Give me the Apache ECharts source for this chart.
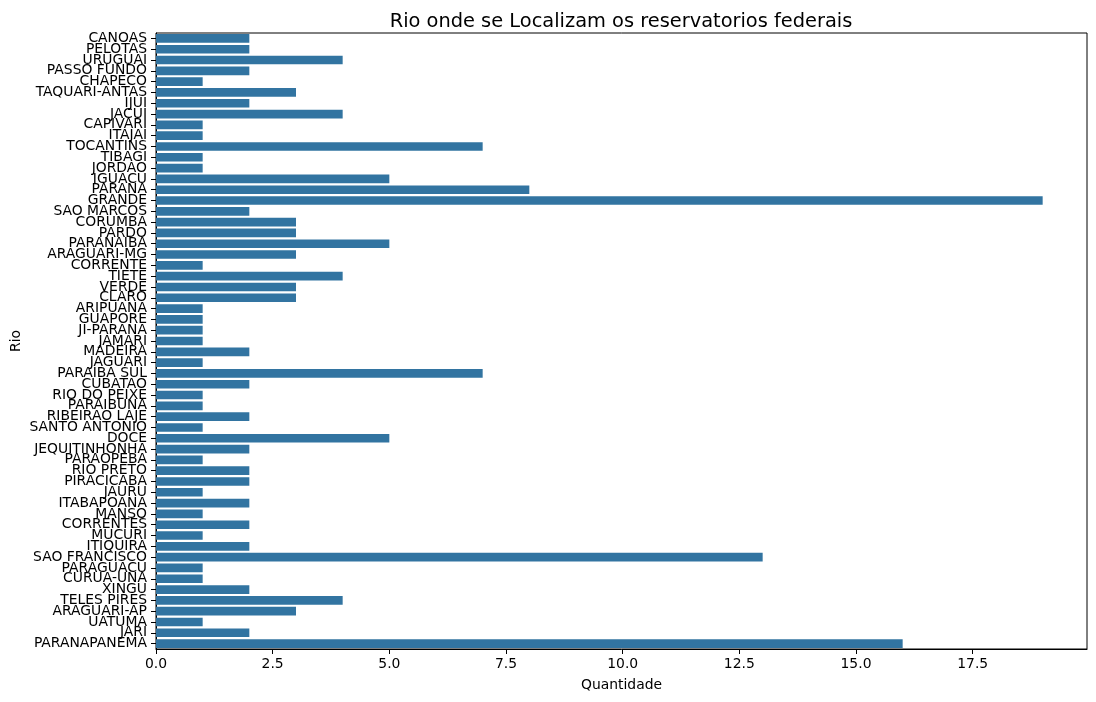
<!DOCTYPE html>
<html>
<head>
<meta charset="utf-8">
<script src="https://cdn.jsdelivr.net/npm/echarts@6/dist/echarts.min.js"></script>
<style>html,body{margin:0;padding:0;background:#fff}#chart{width:1096px;height:702px}</style>
</head>
<body>
<div id="chart"></div>
<script>
const categories = ["CANOAS","PELOTAS","URUGUAI","PASSO FUNDO","CHAPECO","TAQUARI-ANTAS","IJUI","JACUI","CAPIVARI","ITAJAI","TOCANTINS","TIBAGI","JORDAO","IGUACU","PARANA","GRANDE","SAO MARCOS","CORUMBA","PARDO","PARANAIBA","ARAGUARI-MG","CORRENTE","TIETE","VERDE","CLARO","ARIPUANA","GUAPORE","JI-PARANA","JAMARI","MADEIRA","JAGUARI","PARAIBA SUL","CUBATAO","RIO DO PEIXE","PARAIBUNA","RIBEIRAO LAJE","SANTO ANTONIO","DOCE","JEQUITINHONHA","PARAOPEBA","RIO PRETO","PIRACICABA","JAURU","ITABAPOANA","MANSO","CORRENTES","MUCURI","ITIQUIRA","SAO FRANCISCO","PARAGUACU","CURUA-UNA","XINGU","TELES PIRES","ARAGUARI-AP","UATUMA","JARI","PARANAPANEMA"];
const quantidade = [2,2,4,2,1,3,2,4,1,1,7,1,1,5,8,19,2,3,3,5,3,1,4,3,3,1,1,1,1,2,1,7,2,1,1,2,1,5,2,1,2,2,1,2,1,2,1,2,13,1,1,2,4,3,1,2,16];
const xTicks = [0, 2.5, 5, 7.5, 10, 12.5, 15, 17.5];
const xMax = 19.95;
const titleText = "Rio onde se Localizam os reservatorios federais";

const chart = echarts.init(document.getElementById('chart'), null, {renderer: 'canvas'});
const font = "DejaVu Sans";
chart.setOption({
  animation: false,
  backgroundColor: '#fff',
  title: {
    text: titleText,
    left: 616, top: 7, textAlign: 'center',
    textStyle: {fontFamily: font, fontSize: 19.4, fontWeight: 'normal', color: '#000'}
  },
  grid: {left: 156, top: 33, right: 9, bottom: 53, containLabel: false, outerBoundsMode: 'none',
    show: true, borderColor: '#000', borderWidth: 1, backgroundColor: 'transparent'},
  xAxis: {
    type: 'value', min: 0, max: xMax,
    name: 'Quantidade', nameLocation: 'middle', nameGap: 29, nameMoveOverlap: false,
    nameTextStyle: {fontFamily: font, fontSize: 13.9, color: '#000'},
    splitLine: {show: false},
    axisLine: {show: true, lineStyle: {color: '#000', width: 1}},
    axisTick: {show: true, customValues: xTicks, length: 5, lineStyle: {color: '#000'}},
    axisLabel: {customValues: xTicks, margin: 8, fontFamily: font, fontSize: 13.9, color: '#000',
      formatter: v => Number(v).toFixed(1)}
  },
  yAxis: {
    type: 'category', data: categories, inverse: true,
    name: 'Rio', nameLocation: 'middle', nameGap: 133, nameMoveOverlap: false,
    nameTextStyle: {fontFamily: font, fontSize: 13.9, color: '#000'},
    axisLine: {show: true, lineStyle: {color: '#000', width: 1}},
    axisTick: {show: true, alignWithLabel: true, length: 5, lineStyle: {color: '#000'}},
    axisLabel: {interval: 0, margin: 9, fontFamily: font, fontSize: 13.9, color: '#000'}
  },
  series: [{
    type: 'bar', data: quantidade, barCategoryGap: '20%',
    itemStyle: {color: '#3274a1'}
  }]
});
</script>
</body>
</html>
